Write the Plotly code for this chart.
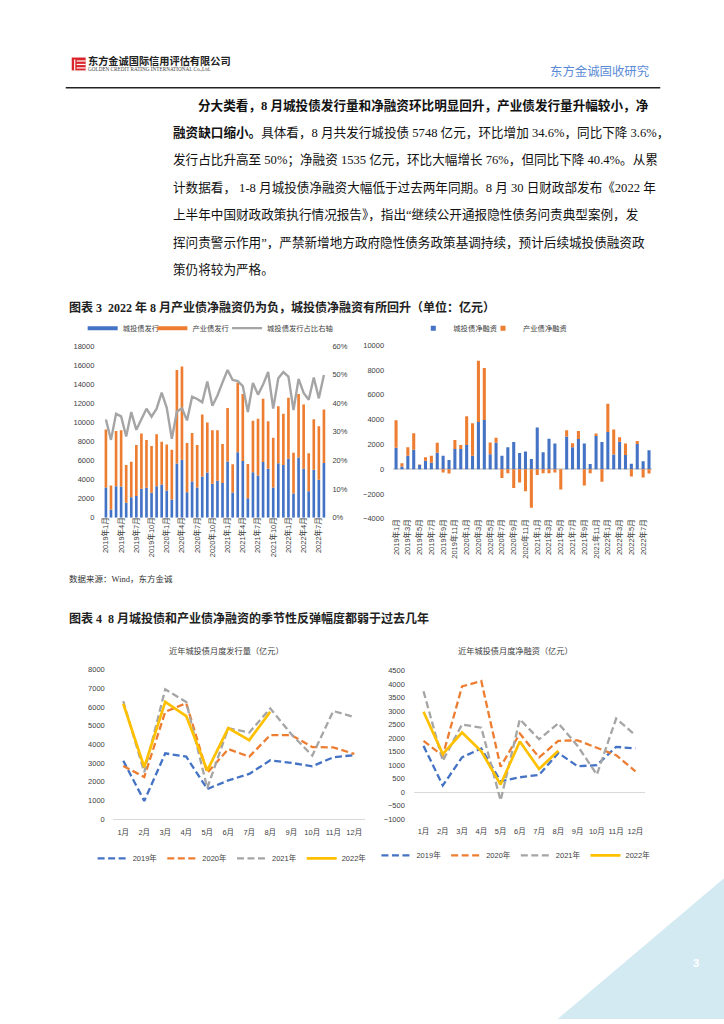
import plotly.graph_objects as go

W, H = 724, 1024
def fx(p): return p / W
def fy(p): return 1 - p / H

# ---------------- data ----------------
months = [f"{y}年{m}月" for y in range(2019, 2023) for m in range(1, 13)][:44]

# Chart 1: issuance (亿元) and ratio (%)
cty_issue = [3180, 865, 3290, 3270, 1560, 2160, 2270, 3050, 3140, 2630, 3290, 3480,
             2860, 1920, 5690, 6080, 2660, 3790, 3180, 4330, 4740, 3550, 3880, 3640,
             5900, 2650, 6870, 5950, 2030, 4760, 4430, 5840, 5140, 3180, 5710, 5540,
             6180, 2550, 6300, 5140, 2770, 5040, 3980, 5748]
ind_issue = [6080, 2525, 5810, 5900, 3980, 3700, 5340, 5775, 5010, 4880, 5450, 4480,
             4820, 5210, 9780, 9760, 5180, 5100, 4430, 6500, 5230, 5620, 5290, 4080,
             5600, 2950, 7280, 7030, 3610, 5400, 5950, 6640, 4960, 5195, 5970, 5350,
             6400, 4250, 6680, 6720, 3980, 5270, 5605, 5602]
cty_ratio = [34.3, 27.2, 36.3, 35.4, 28.4, 36.9, 30.7, 34.6, 38.1, 35.3, 38.1, 43.7,
             38.4, 27.6, 37.1, 38.2, 34.0, 42.3, 41.5, 40.3, 47.6, 39.1, 42.7, 47.3,
             51.6, 48.1, 47.7, 46.0, 36.9, 47.1, 43.0, 46.5, 50.9, 38.1, 48.7, 50.9,
             49.3, 37.6, 48.5, 43.6, 41.2, 49.0, 41.7, 49.9]

# Chart 2: net financing (亿元)
cty_net = [1730, 210, 1090, 1570, 330, 670, 510, 1330, 1090, 750, 1630, 1630,
           1950, 1090, 3810, 3970, 1200, 2130, 1090, 1760, 2190, 1310, 1420, 830,
           3360, 1370, 2450, 2080, 0, 2630, 1770, 2430, 2080, 420, 2680, 2190,
           3010, 1190, 2210, 1140, 440, 2040, 640, 1535]
ind_net = [2220, 270, 670, 1330, 50, 290, 580, 800, -270, -350, 720, 320,
           2320, 2620, 4940, 4190, 960, 400, -720, -320, -1520, -1070, -1790, -3120,
           -470, -320, -320, -270, -1650, 520, 320, 660, -1310, -320, 190, -1010,
           2270, 2020, 360, 940, -590, 240, -670, -340]

# Chart 3 / 4: monthly by year
mon12 = ["1月", "2月", "3月", "4月", "5月", "6月", "7月", "8月", "9月", "10月", "11月", "12月"]
years = ["2019年", "2020年", "2021年", "2022年"]
issue_by_year = {
    "2019年": [3130, 970, 3520, 3345, 1610, 2070, 2420, 3150, 3010, 2830, 3310, 3430],
    "2020年": [2850, 2250, 5750, 6210, 2480, 3750, 3345, 4500, 4500, 3860, 3840, 3490],
    "2021年": [6320, 2510, 6960, 6270, 1660, 4870, 4640, 5930, 4550, 3400, 5790, 5470],
    "2022年": [6180, 2780, 6280, 5520, 2600, 4870, 4230, 5748],
}
net_by_year = {
    "2019年": [1715, 245, 1290, 1620, 400, 550, 640, 1450, 960, 1000, 1680, 1620],
    "2020年": [1900, 1350, 3920, 4120, 940, 2170, 1290, 1900, 1920, 1650, 1370, 770],
    "2021年": [3740, 1160, 2510, 2390, -310, 2700, 1960, 2550, 1715, 650, 2730, 2110],
    "2022年": [2980, 1410, 2210, 1510, 280, 1880, 860, 1535],
}

# ---------------- styles ----------------
BLUE, ORANGE, GRAY, YELLOW = "#4472c4", "#ed7d31", "#a5a5a5", "#ffc000"
NUMF = "Liberation Sans, Noto Sans CJK SC"
CJK = "Noto Sans CJK SC"
TXT = "#404040"
year_style = {
    "2019年": dict(color=BLUE, dash="7px,3.5px", width=2.3),
    "2020年": dict(color=ORANGE, dash="7px,3.5px", width=2.3),
    "2021年": dict(color=GRAY, dash="7px,3.5px", width=2.3),
    "2022年": dict(color=YELLOW, dash="solid", width=2.7),
}

fig = go.Figure()

# ---- chart 1 ----
fig.add_trace(go.Bar(x=months, y=cty_issue, marker_color=BLUE, marker_line_width=0,
                     xaxis="x", yaxis="y", showlegend=False, name="城投债发行"))
fig.add_trace(go.Bar(x=months, y=ind_issue, marker_color=ORANGE, marker_line_width=0,
                     xaxis="x", yaxis="y", showlegend=False, name="产业债发行"))
for nm, c, lg in [("城投债发行", BLUE, "legend"), ("产业债发行", ORANGE, "legend5")]:
    fig.add_trace(go.Scatter(x=[None], y=[None], mode="lines", line=dict(color=c, width=4),
                             name=nm, xaxis="x", yaxis="y", legend=lg))
fig.add_trace(go.Scatter(x=months, y=[v / 100 for v in cty_ratio], mode="lines",
                         line=dict(color=GRAY, width=2.4), name="城投债发行占比右轴",
                         xaxis="x", yaxis="y2", legend="legend6"))

# ---- chart 2 ----
fig.add_trace(go.Bar(x=months, y=cty_net, marker_color=BLUE, marker_line_width=0,
                     xaxis="x3", yaxis="y3", showlegend=False, name="城投债净融资"))
fig.add_trace(go.Bar(x=months, y=ind_net, marker_color=ORANGE, marker_line_width=0,
                     xaxis="x3", yaxis="y3", showlegend=False, name="产业债净融资"))
for nm, c, lg in [("城投债净融资", BLUE, "legend2"), ("产业债净融资", ORANGE, "legend7")]:
    fig.add_trace(go.Scatter(x=[None], y=[None], mode="markers",
                             marker=dict(color=c, size=5, symbol="square"),
                             name=nm, xaxis="x3", yaxis="y3", legend=lg))

# ---- chart 3 & 4 ----
for yr in years:
    fig.add_trace(go.Scatter(x=mon12[:len(issue_by_year[yr])], y=issue_by_year[yr], mode="lines",
                             line=year_style[yr], name=yr, xaxis="x4", yaxis="y4", legend="legend3"))
for yr in years:
    fig.add_trace(go.Scatter(x=mon12[:len(net_by_year[yr])], y=net_by_year[yr], mode="lines",
                             line=year_style[yr], name=yr, xaxis="x5", yaxis="y5", legend="legend4"))

tickf = dict(family=NUMF, size=7.5, color=TXT)
common_x = dict(showgrid=False, zeroline=False, ticks="", tickfont=tickf, fixedrange=True)
common_y = dict(showgrid=False, ticks="", tickfont=tickf, fixedrange=True)

legend_common = dict(orientation="h", xanchor="left", yanchor="middle",
                     bgcolor="rgba(0,0,0,0)", font=dict(family=CJK, size=7.3, color=TXT),
                     itemwidth=30, tracegroupgap=0)
legend_num = {**legend_common, "font": dict(family=NUMF, size=7.5, color=TXT)}

fig.update_layout(
    width=W, height=H, margin=dict(l=0, r=0, t=0, b=0),
    paper_bgcolor="white", plot_bgcolor="rgba(0,0,0,0)",
    barmode="relative", bargap=0.48,
    font=dict(family=CJK, color=TXT),
    xaxis=dict(domain=[fx(100.8), fx(324.8)], anchor="y", range=[-0.5, 43.5],
               tickvals=months[::3], tickangle=-90, ticklabelstandoff=-3, **common_x),
    yaxis=dict(domain=[fy(518.3), fy(345)], anchor="x", range=[0, 18000], dtick=2000,
               tickformat="d", zeroline=False, ticklabelstandoff=8, **common_y),
    yaxis2=dict(domain=[fy(518.3), fy(345)], anchor="x", overlaying="y", side="right",
                range=[0, 0.6], dtick=0.1, tickformat=".0%", zeroline=False,
                ticklabelstandoff=5, **common_y),
    xaxis3=dict(domain=[fx(391.75), fx(651.65)], anchor="y3", range=[-0.5, 43.5],
                tickvals=months[::2], tickangle=-90, ticklabelstandoff=-2, **common_x),
    yaxis3=dict(domain=[fy(519.3), fy(344.3)], anchor="x3", range=[-4000, 10000], dtick=2000,
                tickformat="d", zeroline=True, zerolinecolor="#d9d9d9", zerolinewidth=1.5,
                ticklabelstandoff=8, **common_y),
    xaxis4=dict(domain=[fx(110.2), fx(363.3)], anchor="y4", range=[-0.5, 11.5],
                showline=True, linecolor="#d9d9d9", linewidth=1,
                ticklabelstandoff=6, **common_x),
    yaxis4=dict(domain=[fy(822.3), fy(671.7)], anchor="x4", range=[0, 8000], dtick=1000,
                tickformat="d", zeroline=False, ticklabelstandoff=7, **common_y),
    xaxis5=dict(domain=[fx(412.6), fx(644.7)], anchor="y5", range=[-0.5, 11.5],
                ticklabelstandoff=6, **common_x),
    yaxis5=dict(domain=[fy(822.3), fy(672.7)], anchor="x5", range=[-1000, 4500], dtick=500,
                tickformat="d", zeroline=True, zerolinecolor="#d9d9d9", zerolinewidth=1,
                ticklabelstandoff=8, **common_y),
    legend=dict(x=fx(80), y=fy(327), **legend_common),
    legend5=dict(x=fx(150), y=fy(327), **legend_common),
    legend6=dict(x=fx(225), y=fy(327), **legend_common),
    legend2=dict(x=fx(412), y=fy(327), **legend_common),
    legend7=dict(x=fx(482), y=fy(327), **legend_common),
    legend3=dict(x=fx(90), y=fy(862), **legend_num),
    legend4=dict(x=fx(375), y=fy(859), **legend_num),
)

# ---------------- page decorations ----------------
shapes = []
# header rule
shapes.append(dict(type="line", xref="paper", yref="paper", x0=fx(63), x1=fx(660),
                   y0=fy(84.5), y1=fy(84.5), line=dict(color="#222222", width=1.5)))
# logo
shapes.append(dict(type="rect", xref="paper", yref="paper", x0=fx(69), x1=fx(83),
                   y0=fy(67), y1=fy(54), fillcolor="#d9252a", line_width=0))
for yy in [57.5, 61, 64.5]:
    shapes.append(dict(type="line", xref="paper", yref="paper", x0=fx(74), x1=fx(83),
                       y0=fy(yy), y1=fy(yy), line=dict(color="white", width=1.2)))
shapes.append(dict(type="line", xref="paper", yref="paper", x0=fx(72), x1=fx(72),
                   y0=fy(56), y1=fy(67), line=dict(color="white", width=1.2)))
# corner triangle
shapes.append(dict(type="path", xref="paper", yref="paper",
                   path=f"M {fx(557)} {fy(1024)} L {fx(724)} {fy(882)} L {fx(724)} {fy(1024)} Z",
                   fillcolor="#d4eaf2", line_width=0, layer="below"))
fig.update_layout(shapes=shapes)

ann = []
def add_text(x, y, text, size, color="#111111", family=CJK, xanchor="left"):
    ann.append(dict(x=fx(x), y=fy(y), xref="paper", yref="paper", text=text, showarrow=False,
                    xanchor=xanchor, yanchor="middle", borderpad=0,
                    font=dict(size=size, color=color, family=family)))

add_text(84, 57.5, "<b>东方金诚国际信用评估有限公司</b>", 10.2, "#222222", "Noto Sans CJK SC")
add_text(84, 66, "GOLDEN CREDIT RATING INTERNATIONAL Co.,Ltd.", 5.2, "#444444", "Liberation Serif")
add_text(650, 68, "东方金诚固收研究", 12.4, "#5b8bd6", CJK, xanchor="right")

BODY = "Liberation Serif, Noto Sans CJK SC"
lines = [
    (195, "<b>分大类看，8 月城投债发行量和净融资环比明显回升，产业债发行量升幅较小，净</b>"),
    (170, "<b>融资缺口缩小。</b>具体看，8 月共发行城投债 5748 亿元，环比增加 34.6%，同比下降 3.6%，"),
    (170, "发行占比升高至 50%；净融资 1535 亿元，环比大幅增长 76%，但同比下降 40.4%。从累"),
    (170, "计数据看， 1-8 月城投债净融资大幅低于过去两年同期。8 月 30 日财政部发布《2022 年"),
    (170, "上半年中国财政政策执行情况报告》，指出“继续公开通报隐性债务问责典型案例，发"),
    (170, "挥问责警示作用”，严禁新增地方政府隐性债务政策基调持续，预计后续城投债融资政"),
    (170, "策仍将较为严格。"),
]
for i, (x0, t) in enumerate(lines):
    add_text(x0, 102 + 27.7 * i, t, 12.6, "#111111", BODY)

add_text(65, 306, "<b>图表 3  2022 年 8 月产业债净融资仍为负，城投债净融资有所回升（单位：亿元）</b>", 12, "#222222", BODY)
add_text(65, 580, "数据来源：Wind，东方金诚", 8.5, "#333333", BODY)
add_text(65, 620, "<b>图表 4  8 月城投债和产业债净融资的季节性反弹幅度都弱于过去几年</b>", 12, "#222222", BODY)
add_text(224, 652, "近年城投债月度发行量（亿元）", 8.2, "#404040", CJK, xanchor="center")
add_text(515, 652, "近年城投债月度净融资（亿元）", 8.2, "#404040", CJK, xanchor="center")
add_text(696, 967, "<b>3</b>", 11, "white", NUMF, xanchor="center")
fig.update_layout(annotations=ann)

fig.write_html("out.html", config={"displayModeBar": False, "staticPlot": True},
               post_script="document.body.style.margin='0';document.body.style.overflow='hidden';")
